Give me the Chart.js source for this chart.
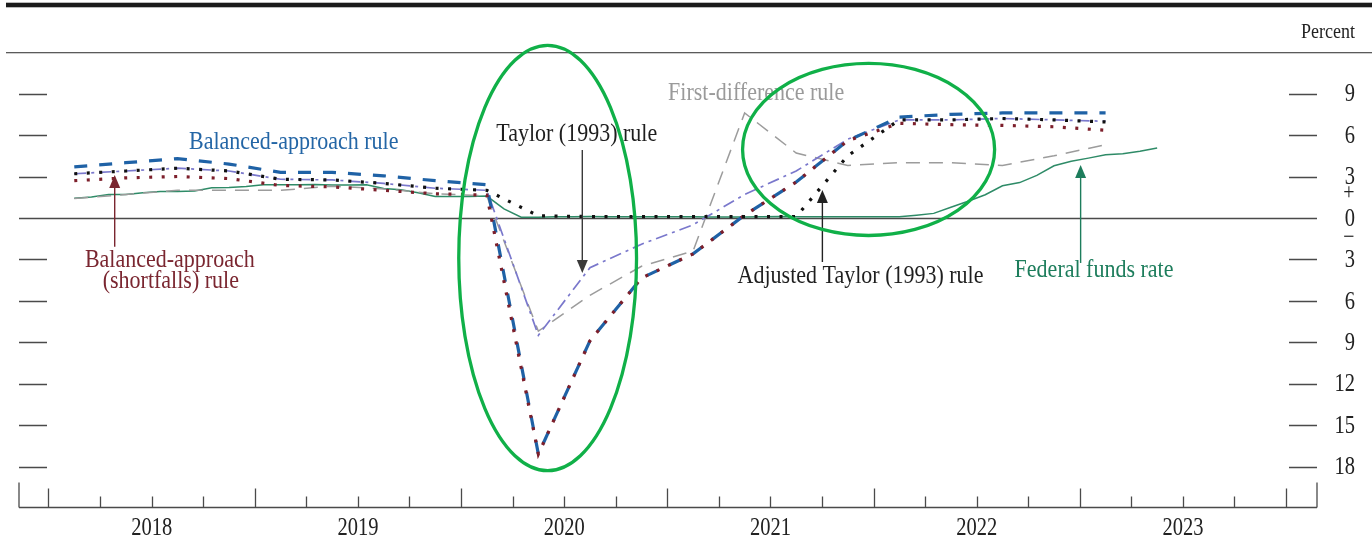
<!DOCTYPE html>
<html><head><meta charset="utf-8">
<script src="https://cdn.jsdelivr.net/npm/chart.js@4.4.0/dist/chart.umd.min.js"></script>
<style>html,body{margin:0;padding:0;background:#fff;}#wrap{width:1372px;height:546px;}</style>
</head><body><div id="wrap"><canvas id="c" width="1372" height="546"></canvas></div>
<script>
// ---------- DATA ----------
const quarterX = [2018.125,2018.375,2018.625,2018.875,2019.125,2019.375,2019.625,2019.875,
  2020.125,2020.375,2020.625,2020.875,2021.125,2021.375,2021.625,2021.875,
  2022.125,2022.375,2022.625,2022.875,2023.125];
const balancedApproach = [3.7,4.0,4.3,3.9, 3.3,3.3,3.05,2.7, 2.4,-17.1,-8.9,-4.35, -2.6,0.2,2.6,5.6, 7.3,7.5,7.6,7.6, 7.6];
const balancedShortfalls = [2.7,2.9,3.0,2.85, 2.35,2.25,2.0,1.75, 1.65,-17.1,-8.9,-4.35, -2.6,0.2,2.6,5.6, 6.85,6.75,6.7,6.6, 6.35];
const taylor1993 = [3.2,3.4,3.6,3.4, 2.8,2.75,2.5,2.15, 2.0,-8.5,-3.6,-1.9, -0.5,1.7,3.4,5.7, 7.1,7.1,7.2,7.1, 7.0];
const adjustedTaylor = [3.2,3.4,3.6,3.4, 2.8,2.75,2.5,2.15, 2.0,0.15,0.1,0.1, 0.1,0.1,0.1,4.5, 7.1,7.1,7.2,7.1, 6.95];
const firstDifference = [1.4,1.7,2.0,2.0, 2.0,2.3,2.1,1.75, 1.6,-8.2,-5.6,-3.5, -2.4,7.6,4.7,3.8, 4.0,4.0,3.8,4.5, 5.3];
// Federal funds rate, monthly, Feb 2018 .. May 2023
const ffrFirstMonth = {year:2018, month:2};
const federalFunds = [
  1.42,1.51,1.69,1.70,1.82,1.91,1.91,1.95,2.19,2.20,2.27,
  2.40,2.40,2.41,2.42,2.39,2.38,2.40,2.13,2.04,1.83,1.55,1.55,
  1.55,1.58,0.65,0.05,0.05,0.08,0.09,0.10,0.09,0.09,0.09,0.09,
  0.09,0.08,0.07,0.07,0.06,0.08,0.10,0.09,0.08,0.08,0.08,0.08,
  0.08,0.08,0.20,0.33,0.77,1.21,1.68,2.33,2.56,3.08,3.78,4.10,
  4.33,4.57,4.65,4.83,5.06];
const yTickValues = [9,6,3,0,-3,-6,-9,-12,-15,-18];
const yTickLabels = ['9','6','3','0','3','6','9','12','15','18'];
const yearLabels = ['2018','2019','2020','2021','2022','2023'];
const yearBoundaries = [2018,2019,2020,2021,2022,2023,2024];

// annotations in data coordinates
const textNotes = [
  {t:'Balanced-approach rule', x:2019.189, y:5.0, c:'#2466a6'},
  {t:'Balanced-approach', x:2018.588, y:-3.55, c:'#7a2630'},
  {t:'(shortfalls) rule', x:2018.593, y:-5.07, c:'#7a2630'},
  {t:'Taylor (1993) rule', x:2020.561, y:5.57, c:'#1e1e1e'},
  {t:'First-difference rule', x:2021.431, y:8.54, c:'#9a9a9a'},
  {t:'Adjusted Taylor (1993) rule', x:2021.937, y:-4.73, c:'#1e1e1e'},
  {t:'Federal funds rate', x:2023.069, y:-4.25, c:'#1d7d5c'}
];
const arrowNotes = [
  {x:2018.321, from:-2.08, to:3.11, c:'#7a2630'},
  {x:2020.588, from:4.92, to:-3.98, c:'#3a3a3a'},
  {x:2021.752, from:-3.19, to:2.03, c:'#222'},
  {x:2023.004, from:-3.26, to:3.84, c:'#1d7d5c'}
];
const ellipses = [
  {cx:2020.42, cy:-2.9, rx:0.431, ry:15.4},
  {cx:2021.976, cy:4.96, rx:0.611, ry:6.23}
];

// ---------- BUILD ----------
const pts = arr => arr.map((v,i)=>({x:quarterX[i], y:v}));
const ffrPts = federalFunds.map((v,i)=>{
  const m = ffrFirstMonth.month - 1 + i;
  return {x: ffrFirstMonth.year + (m + 0.5)/12, y: v};
});

const SERIF = '"Liberation Serif","Times New Roman",serif';
function stretchedText(ctx, txt, x, y, size, color, align, baseline, sy){
  ctx.save();
  ctx.translate(x, y);
  ctx.scale(1, sy);
  ctx.font = size + 'px ' + SERIF;
  ctx.fillStyle = color;
  ctx.textAlign = align;
  ctx.textBaseline = baseline;
  ctx.fillText(txt, 0, 0);
  ctx.restore();
}

const decor = {
  id:'decor',
  beforeDraw(chart){
    const ctx = chart.ctx;
    ctx.save(); ctx.fillStyle='#fff'; ctx.fillRect(0,0,chart.width,chart.height); ctx.restore();
  },
  beforeDatasetsDraw(chart){
    const {ctx, chartArea:a, scales:{x,y}} = chart;
    ctx.save();
    ctx.strokeStyle = '#4a4a4a';
    ctx.lineWidth = 1.3;
    yTickValues.forEach(v=>{
      const py = Math.round(y.getPixelForValue(v)) + 0.5;
      ctx.beginPath();
      if (v === 0){ ctx.lineWidth=1.6; ctx.moveTo(a.left, py); ctx.lineTo(a.right, py); }
      else { ctx.lineWidth=1.3; ctx.moveTo(a.left, py); ctx.lineTo(a.left+28, py); ctx.moveTo(a.right-28, py); ctx.lineTo(a.right, py); }
      ctx.stroke();
    });
    // x axis baseline and ticks
    const by = Math.round(a.bottom) - 0.5;
    ctx.lineWidth = 1.3;
    ctx.beginPath();
    ctx.moveTo(a.left, by); ctx.lineTo(a.right, by);
    ctx.moveTo(a.left, by); ctx.lineTo(a.left, by-25);
    ctx.moveTo(a.right, by); ctx.lineTo(a.right, by-25);
    for (let i=0;i<yearBoundaries.length;i++){
      const yr = yearBoundaries[i];
      const px = Math.round(x.getPixelForValue(yr))+0.5;
      ctx.moveTo(px, by); ctx.lineTo(px, by-19);
      if (i < yearBoundaries.length-1){
        for (let q=1;q<4;q++){
          const qx = Math.round(x.getPixelForValue(yr + q/4))+0.5;
          ctx.moveTo(qx, by); ctx.lineTo(qx, by-11);
        }
      }
    }
    ctx.stroke();
    ctx.restore();
  },
  afterDraw(chart){
    const {ctx, chartArea:a, scales:{x,y}} = chart;
    ctx.save();
    // header rules
    ctx.fillStyle = '#1b1b1b';
    ctx.fillRect(6, 2.7, chart.width-6, 4.6);
    ctx.fillStyle = '#5a5a5a';
    ctx.fillRect(6, 52, chart.width-6, 1.3);
    stretchedText(ctx, 'Percent', 1355, 38, 18, '#222', 'right', 'alphabetic', 1.2);
    // y labels
    yTickValues.forEach((v,i)=>{
      stretchedText(ctx, yTickLabels[i], 1355, y.getPixelForValue(v)+1, 20.5, '#222', 'right', 'middle', 1.25);
    });
    stretchedText(ctx, '+', 1349, y.getPixelForValue(1.8), 20, '#222', 'center', 'middle', 1.2);
    stretchedText(ctx, '\u2212', 1349, y.getPixelForValue(-1.4), 20, '#222', 'center', 'middle', 1.2);
    // x labels
    yearLabels.forEach((t,i)=>{
      stretchedText(ctx, t, x.getPixelForValue(yearBoundaries[i]+0.5), 535, 20.5, '#222', 'center', 'alphabetic', 1.25);
    });
    // text notes
    textNotes.forEach(n=>{
      stretchedText(ctx, n.t, x.getPixelForValue(n.x), y.getPixelForValue(n.y), 22, n.c, 'center', 'alphabetic', 1.18);
    });
    // arrows
    arrowNotes.forEach(n=>{
      const px = x.getPixelForValue(n.x);
      const p0 = y.getPixelForValue(n.from), p1 = y.getPixelForValue(n.to);
      const dir = p1 < p0 ? 1 : -1; // 1: pointing up
      ctx.strokeStyle = n.c; ctx.fillStyle = n.c; ctx.lineWidth = 1.4;
      ctx.beginPath(); ctx.moveTo(px, p0); ctx.lineTo(px, p1 + dir*10); ctx.stroke();
      ctx.beginPath();
      ctx.moveTo(px, p1);
      ctx.lineTo(px-5.5, p1 + dir*13);
      ctx.lineTo(px+5.5, p1 + dir*13);
      ctx.closePath(); ctx.fill();
    });
    // ellipses
    ctx.strokeStyle = '#10b048'; ctx.lineWidth = 3.3;
    ellipses.forEach(e=>{
      const cx = x.getPixelForValue(e.cx), cy = y.getPixelForValue(e.cy);
      const rx = x.getPixelForValue(e.cx + e.rx) - cx;
      const ry = cy - y.getPixelForValue(e.cy + e.ry);
      ctx.beginPath(); ctx.ellipse(cx, cy, rx, ry, 0, 0, Math.PI*2); ctx.stroke();
    });
    ctx.restore();
  }
};

new Chart(document.getElementById('c'), {
  type:'line',
  data:{ datasets:[
    {label:'Adjusted Taylor (1993) rule', data:pts(adjustedTaylor), borderColor:'#111', borderWidth:3.2, borderDash:[3,9.5], order:1},
    {label:'Balanced-approach (shortfalls) rule', data:pts(balancedShortfalls), borderColor:'#7d1f2b', borderWidth:3.2, borderDash:[3,9.5], order:2},
    {label:'Balanced-approach rule', data:pts(balancedApproach), borderColor:'#1f62a6', borderWidth:3.2, borderDash:[13,12], order:3},
    {label:'Taylor (1993) rule', data:pts(taylor1993), borderColor:'#7a78cc', borderWidth:1.7, borderDash:[12,5,3,5], order:4},
    {label:'First-difference rule', data:pts(firstDifference), borderColor:'#9c9c9c', borderWidth:1.5, borderDash:[14,9], order:5},
    {label:'Federal funds rate', data:ffrPts, borderColor:'#2e8b67', borderWidth:1.5, order:6}
  ]},
  options:{
    responsive:false, animation:false, devicePixelRatio:1,
    layout:{padding:{left:19, right:55, top:66, bottom:38}},
    elements:{point:{radius:0, hoverRadius:0}, line:{tension:0, fill:false, borderCapStyle:'butt', borderJoinStyle:'miter'}},
    plugins:{legend:{display:false}, tooltip:{enabled:false}},
    events:[],
    scales:{
      x:{type:'linear', min:2017.857, max:2024.15, display:false},
      y:{type:'linear', min:-21, max:11, display:false}
    }
  },
  plugins:[decor]
});
</script></body></html>
